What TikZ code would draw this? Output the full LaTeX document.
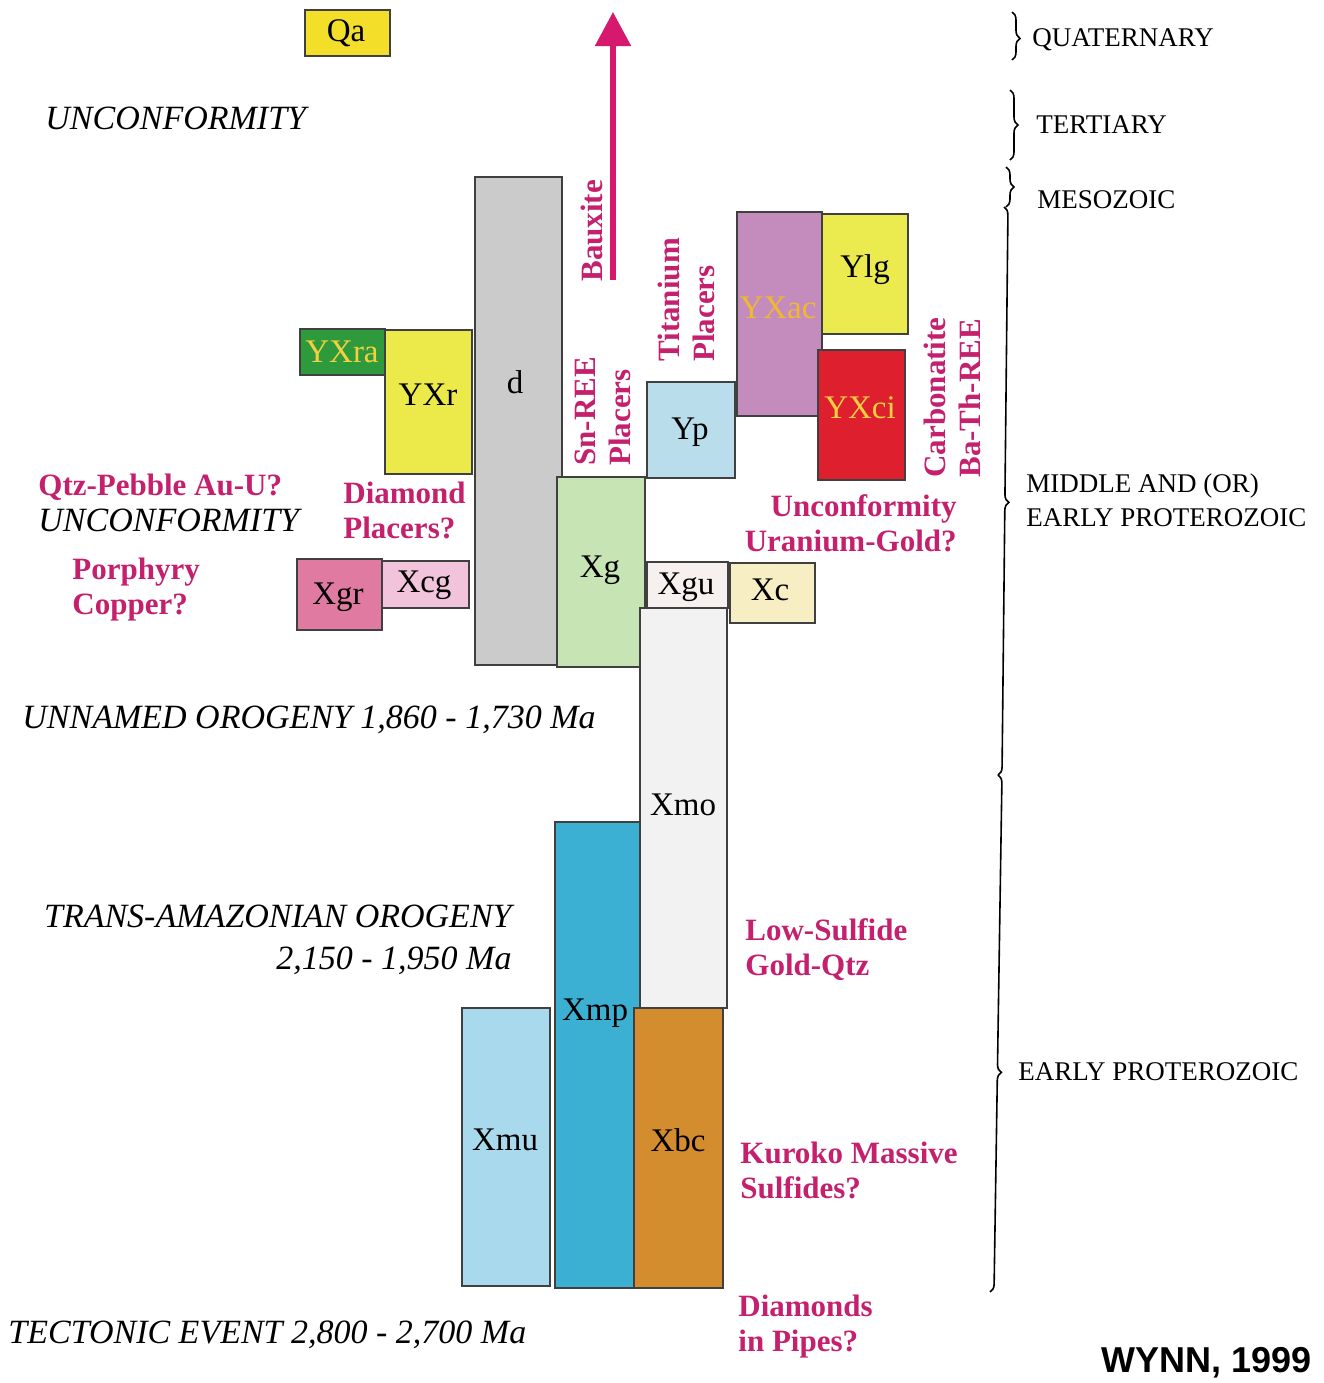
\documentclass[tikz,border=0pt]{standalone}
\usepackage{fontspec}
\setmainfont{Liberation Serif}
\newfontfamily\wynnfont{Liberation Sans}
\usetikzlibrary{arrows.meta,decorations.pathreplacing}
\definecolor{mag}{HTML}{C4206E}
\definecolor{arr}{HTML}{D6186E}
\definecolor{cQa}{HTML}{F3DF2A}
\definecolor{cd}{HTML}{CBCBCB}
\definecolor{cYXra}{HTML}{2F9A3C}
\definecolor{cYXr}{HTML}{ECEA4A}
\definecolor{cXg}{HTML}{C6E4B4}
\definecolor{cYp}{HTML}{B9DDEA}
\definecolor{cYXac}{HTML}{C38CBC}
\definecolor{cYlg}{HTML}{EBEB4F}
\definecolor{cYXci}{HTML}{DE1F2D}
\definecolor{cXgr}{HTML}{E07AA0}
\definecolor{cXcg}{HTML}{F2C4DC}
\definecolor{cXgu}{HTML}{F6F0EE}
\definecolor{cXc}{HTML}{F8EEC4}
\definecolor{cXmo}{HTML}{F2F2F2}
\definecolor{cXmp}{HTML}{3BB0D2}
\definecolor{cXmu}{HTML}{A9D9EC}
\definecolor{cXbc}{HTML}{D38D2E}
\definecolor{ylwtxt}{HTML}{F2D040}
\definecolor{orgtxt}{HTML}{F0B830}
\newcommand\geobox[6]{%
  \pgfmathsetmacro\bw{(#4-#2)*0.5}%
  \pgfmathsetmacro\bh{(#5-#3)*0.5}%
  \node[gbox, fill=#6, minimum width=\bw pt, minimum height=\bh pt] (#1) at ({(#2+#4)/2},{(#3+#5)/2}) {};%
}
\begin{document}
\begin{tikzpicture}[x=0.5pt,y=-0.5pt,
  gbox/.style={draw=black!75, line width=0.7pt, inner sep=0pt, outer sep=0pt},
  blab/.style={font=\fontsize{16.5}{18}\selectfont, inner sep=0pt},
  ylab/.style={font=\fontsize{16.5}{18}\selectfont, inner sep=0pt, text=ylwtxt},
  mlab/.style={font=\bfseries\fontsize{15.5}{17.5}\selectfont, text=mag, inner sep=0pt, align=left},
  ilab/.style={font=\itshape\fontsize{17}{20}\selectfont, inner sep=0pt},
  era/.style={font=\fontsize{13.5}{17}\selectfont, inner sep=0pt, align=left, anchor=west},
  brc/.style={decorate, decoration={brace, amplitude=4pt}, line width=0.8pt}]
\useasboundingbox[fill=white] (0,0) rectangle (1324,1383);

% boxes
\geobox{bQa}{305}{10}{390}{56}{cQa}
\geobox{bd}{475}{177}{562}{665}{cd}
\geobox{bYXra}{300}{329}{385}{375}{cYXra}
\geobox{bYXr}{385}{330}{472}{474}{cYXr}
\geobox{bXg}{557}{477}{645}{667}{cXg}
\geobox{bYp}{647}{382}{735}{478}{cYp}
\geobox{bYXac}{737}{212}{822}{416}{cYXac}
\geobox{bYlg}{822}{214}{908}{334}{cYlg}
\geobox{bYXci}{818}{350}{905}{480}{cYXci}
\geobox{bXgr}{297}{559}{382}{630}{cXgr}
\geobox{bXcg}{382}{561}{469}{608}{cXcg}
\geobox{bXmo}{640}{608}{727}{1008}{cXmo}
\geobox{bXgu}{647}{562}{728}{608}{cXgu}
\geobox{bXc}{730}{563}{815}{623}{cXc}
\geobox{bXmp}{555}{822}{640}{1288}{cXmp}
\geobox{bXmu}{462}{1008}{550}{1286}{cXmu}
\geobox{bXbc}{634}{1008}{723}{1288}{cXbc}

% box labels
\node[blab] (lQa) at (346,33) {Qa};
\node[blab] (ld) at (515,382) {d};
\node[ylab] (lYXra) at (342,352) {YXra};
\node[blab] (lYXr) at (428,395) {YXr};
\node[blab] (lXg) at (600,570) {Xg};
\node[blab] (lYp) at (690,432) {Yp};
\node[ylab, text=orgtxt] (lYXac) at (778,308) {YXac};
\node[blab] (lYlg) at (865,270) {Ylg};
\node[ylab] (lYXci) at (860,408) {YXci};
\node[blab] (lXgr) at (338,597) {Xgr};
\node[blab] (lXcg) at (424,585) {Xcg};
\node[blab] (lXgu) at (686,587) {Xgu};
\node[blab] (lXc) at (770,590) {Xc};
\node[blab] (lXmo) at (683,805) {Xmo};
\node[blab] (lXmp) at (595,1013) {Xmp};
\node[blab] (lXmu) at (505,1140) {Xmu};
\node[blab] (lXbc) at (678,1140) {Xbc};

% arrow
\coordinate (arA) at (613,280);
\coordinate (arB) at (613,12);
\draw[arr, line width=2.6pt, -{Triangle[width=17.5pt,length=17pt]}] (arA) -- (arB);

% rotated magenta labels
\node[mlab, rotate=90, anchor=west] (tBaux) at (592,282) {Bauxite};
\node[mlab, rotate=90, anchor=west] (tSn) at (603,466) {Sn-REE\\Placers};
\node[mlab, rotate=90, anchor=west] (tTi) at (686,362) {Titanium\\Placers};
\node[mlab, rotate=90, anchor=west] (tCarb) at (952,478) {Carbonatite\\Ba-Th-REE};

% horizontal magenta labels
\node[mlab, anchor=west] (tQtz) at (38,487) {Qtz-Pebble Au-U?};
\node[mlab, anchor=west] (tDiaP) at (343,510) {Diamond\\Placers?};
\node[mlab, anchor=west] (tPorph) at (72,590) {Porphyry\\Copper?};
\node[mlab, anchor=east, align=right] (tUnc) at (957,523) {Unconformity\\Uranium-Gold?};
\node[mlab, anchor=west] (tLow) at (745,950) {Low-Sulfide\\Gold-Qtz};
\node[mlab, anchor=west] (tKur) at (740,1170) {Kuroko Massive\\Sulfides?};
\node[mlab, anchor=west] (tDiaPi) at (738,1327) {Diamonds\\in Pipes?};

% black italic labels
\node[ilab, anchor=west] (iU1) at (45,118) {UNCONFORMITY};
\node[ilab, anchor=west] (iU2) at (38,520) {UNCONFORMITY};
\node[ilab, anchor=west] (iUn) at (22,720) {UNNAMED OROGENY 1,860 - 1,730 Ma};
\node[ilab, anchor=east, align=right] (iTr) at (512,940) {TRANS-AMAZONIAN OROGENY\\[1pt]2,150 - 1,950 Ma};
\node[ilab, anchor=west] (iTe) at (8,1335) {TECTONIC EVENT 2,800 - 2,700 Ma};

% eras and braces
\coordinate (q1) at (1012,12);   \coordinate (q2) at (1012,60);
\coordinate (t1) at (1010,90);   \coordinate (t2) at (1010,160);
\coordinate (m1) at (1006,167);  \coordinate (m2) at (1006,207);
\coordinate (p1) at (1004,207);  \coordinate (p2) at (998,775);
\coordinate (e1) at (998,775);   \coordinate (e2) at (990,1292);
\draw[brc, decoration={aspect=0.55}] (q1) -- (q2);
\draw[brc] (t1) -- (t2);
\draw[brc] (m1) -- (m2);
\draw[brc, decoration={aspect=0.52}] (p1) -- (p2);
\draw[brc, decoration={aspect=0.575}] (e1) -- (e2);
\node[era] (eQ) at (1032,40) {QUATERNARY};
\node[era] (eT) at (1036,125) {TERTIARY};
\node[era] (eM) at (1037,200) {MESOZOIC};
\node[era] (eP) at (1026,500) {MIDDLE AND (OR)\\EARLY PROTEROZOIC};
\node[era] (eE) at (1018,1072) {EARLY PROTEROZOIC};

\node[font=\wynnfont\bfseries\fontsize{18}{20}\selectfont, anchor=east, inner sep=0pt] (wynn) at (1312,1363) {WYNN, 1999};
\end{tikzpicture}
\end{document}
